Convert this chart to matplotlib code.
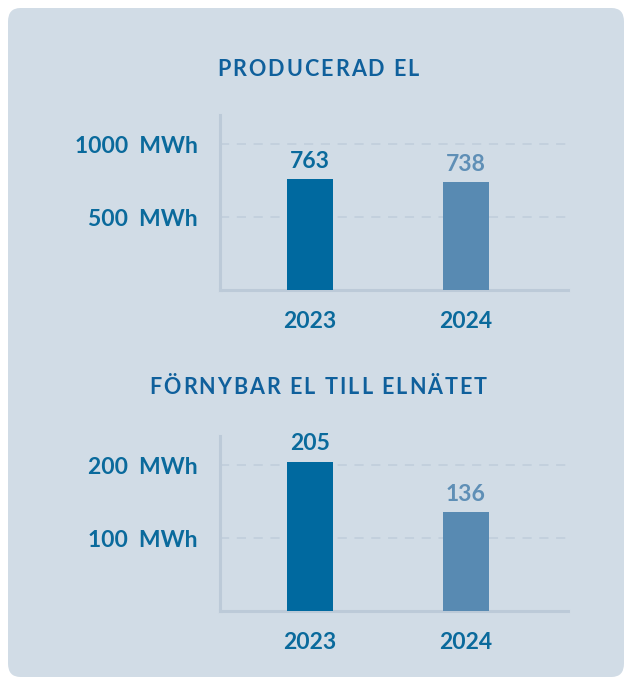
import matplotlib.pyplot as plt
from matplotlib.patches import FancyBboxPatch
from matplotlib.font_manager import FontProperties

# data
years = ["2023", "2024"]
produced = [763, 738]
renewable = [205, 136]
produced_ticks = [500, 1000]
renewable_ticks = [100, 200]

plt.rcParams['font.family'] = ['Lato', 'DejaVu Sans']
plt.rcParams['font.weight'] = 'bold'

text_col = "#0a6a9c"
bar_cols = ["#00699f", "#588ab2"]
label_cols = ["#0a6a9c", "#5f8fb6"]
panel_col = "#d1dce6"
line_col = "#bccad8"

fig = plt.figure(figsize=(6.26, 6.77), dpi=100)
fig.patch.set_facecolor("white")

# rounded background panel
panel = FancyBboxPatch((8 / 626, 0.0), 616 / 626, 669 / 677,
                       boxstyle="round,pad=0,rounding_size=0.02",
                       transform=fig.transFigure, facecolor=panel_col,
                       edgecolor="none", zorder=-5)
fig.patches.append(panel)

renderer = fig.canvas.get_renderer()


def spaced_text(s, cx, cy, size, color, track):
    # matplotlib has no letter-spacing, so lay the letters out one by one
    fp = FontProperties(family="Lato", weight="bold", size=size)
    wa = renderer.get_text_width_height_descent("a", fp, ismath=False)[0]
    widths = []
    for c in s:
        if c == " ":
            widths.append(renderer.get_text_width_height_descent("a a", fp, ismath=False)[0] - 2 * wa)
        else:
            widths.append(renderer.get_text_width_height_descent(c, fp, ismath=False)[0])
    total = sum(widths) + track * (len(s) - 1)
    x = cx * fig.bbox.width - total / 2
    for c, w in zip(s, widths):
        if c != " ":
            fig.text(x / fig.bbox.width, cy, c, ha="left", va="center",
                     fontproperties=fp, color=color)
        x += w + track


def draw(ax, values, ticks, ymax, title, title_y):
    ax.set_facecolor("none")
    x = range(len(values))
    ax.bar(x, values, width=0.295, color=bar_cols, zorder=3)
    for i, v in enumerate(values):
        ax.annotate(str(v), (i, v), xytext=(0, 8), textcoords="offset points",
                    ha="center", va="baseline", fontsize=16.5, color=label_cols[i],
                    fontweight="bold")
    ax.set_xlim(-0.577, 1.654)
    ax.set_ylim(0, ymax)
    ax.set_yticks(ticks)
    ax.set_yticklabels([f"{t}  MWh" for t in ticks])
    ax.set_xticks(list(x))
    ax.set_xticklabels(years)
    ax.tick_params(length=0, labelsize=16.5, labelcolor=text_col)
    ax.tick_params(axis="y", pad=16)
    ax.tick_params(axis="x", pad=15)
    for s in ["top", "right"]:
        ax.spines[s].set_visible(False)
    for s in ["left", "bottom"]:
        ax.spines[s].set_color(line_col)
        ax.spines[s].set_linewidth(2.2)
    ax.grid(axis="y", color="#bfcddb", linewidth=1.1, linestyle=(0, (6, 5)), zorder=1)
    spaced_text(title, 318 / 626, title_y, 15.5, "#0f609c", 2.0)


ax1 = fig.add_axes([220 / 626, 1 - 290 / 677, 348 / 626, 175 / 677])
draw(ax1, produced, produced_ticks, 1200, "PRODUCERAD EL", 1 - 69 / 677)

ax2 = fig.add_axes([220 / 626, 1 - 611 / 677, 348 / 626, 175 / 677])
draw(ax2, renewable, renewable_ticks, 240, "FÖRNYBAR EL TILL ELNÄTET", 1 - 388 / 677)

fig.savefig("out.png", dpi=100)
